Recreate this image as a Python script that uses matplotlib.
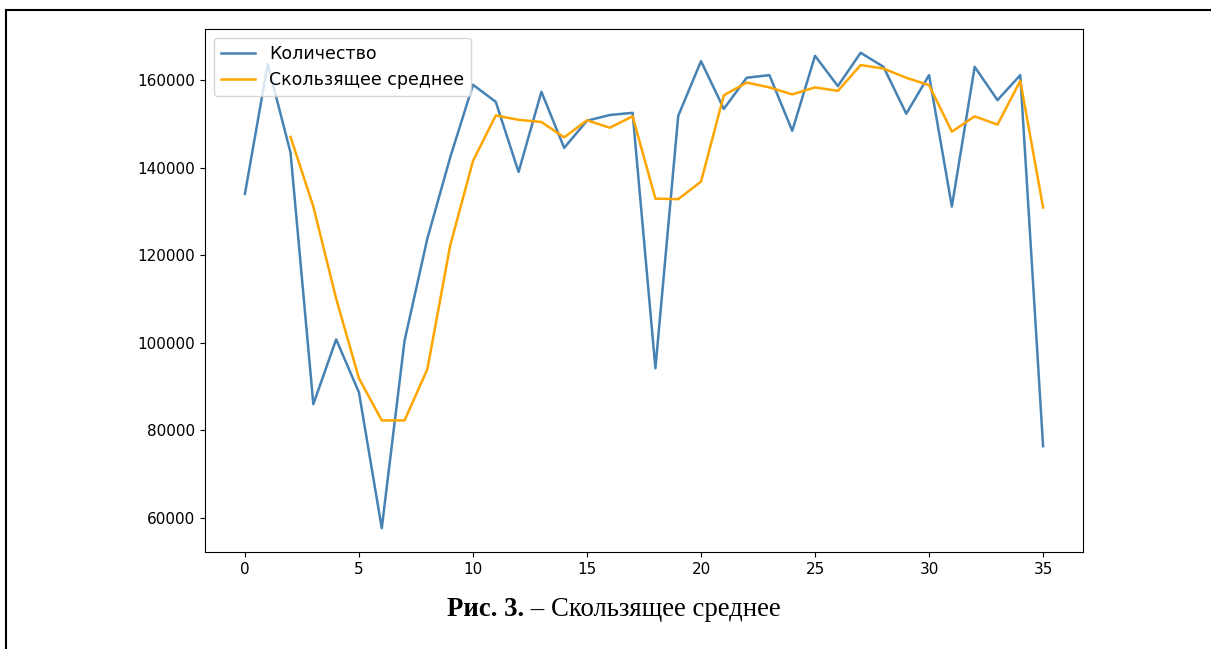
import matplotlib
matplotlib.use('Agg')
import matplotlib.pyplot as plt
from matplotlib.lines import Line2D

# data
idx = list(range(36))
counts = [134000, 163600, 143400, 86000, 100800, 88700, 57700, 100500, 123800, 142300,
          158900, 155000, 139000, 157300, 144500, 150700, 152000, 152500, 94200, 151800,
          164300, 153400, 160500, 161100, 148400, 165500, 158600, 166200, 163000, 152300,
          161100, 131100, 163000, 155400, 161100, 76400]
ma_idx = list(range(2, 36))
moving_avg = [147000, 131100, 110100, 91900, 82300, 82300, 94000, 122200, 141500, 151900,
              150900, 150400, 146900, 150800, 149100, 151700, 132900, 132800, 136800, 156500,
              159400, 158300, 156700, 158300, 157500, 163400, 162600, 160500, 158800, 148200,
              151700, 149800, 159800, 130900]

labels = ['Количество', 'Скользящее среднее']
caption_bold = 'Рис. 3.'
caption_rest = ' – Скользящее среднее'

fig = plt.figure(figsize=(12.11, 6.49), dpi=100)
ax = fig.add_axes([0.1693, 0.1495, 0.7250, 0.8058])

ax.plot(idx, counts, color='steelblue', lw=1.8, label=labels[0])
ax.plot(ma_idx, moving_avg, color='orange', lw=1.8, label=labels[1])
ax.tick_params(labelsize=11)
ax.legend(loc='upper left', fontsize=12.5)

# page frame (left and top edges)
fig.add_artist(Line2D([5.5 / 1211, 5.5 / 1211], [0, 1 - 9.5 / 649], color='black', lw=1.5))
fig.add_artist(Line2D([5.5 / 1211, 1], [1 - 9.5 / 649, 1 - 9.5 / 649], color='black', lw=1.5))

# caption
t1 = fig.text(447 / 1211, 1 - 609 / 649, caption_bold, family='Liberation Serif',
              weight='bold', fontsize=19.3, va='center', ha='left')
fig.canvas.draw()
bb = t1.get_window_extent()
fig.text(bb.x1 / 1211, 1 - 609 / 649, caption_rest, family='Liberation Serif',
         fontsize=19.3, va='center', ha='left')

plt.savefig('out.png', dpi=100)
